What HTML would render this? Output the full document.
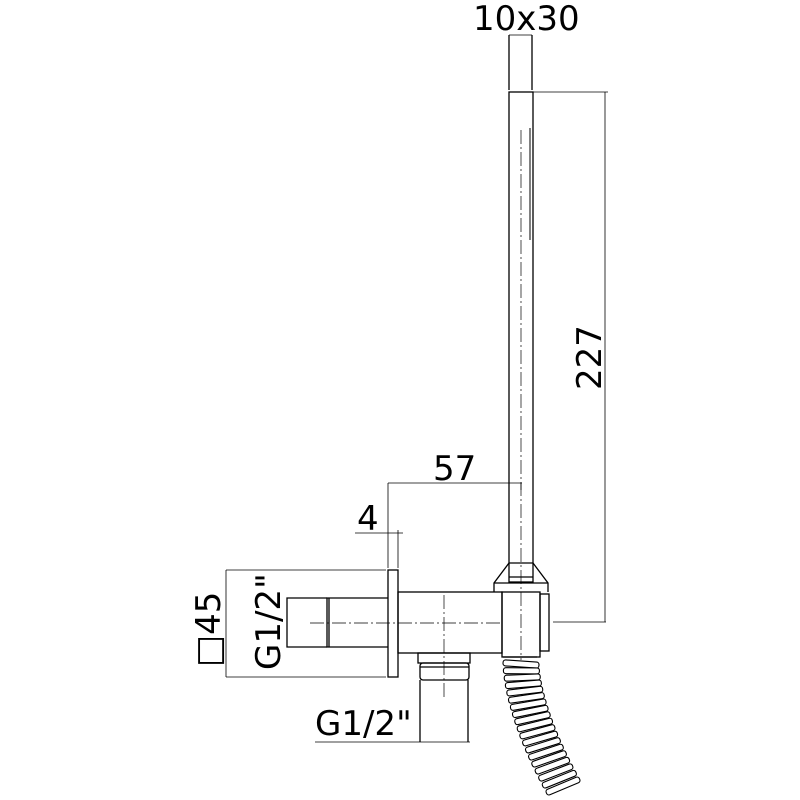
<!DOCTYPE html>
<html><head><style>body{margin:0;background:#fff}svg{display:block}text{font-family:"DejaVu Sans","Liberation Sans",sans-serif;fill:#000}</style></head>
<body>
<svg id="s" width="800" height="800" viewBox="0 0 800 800" xmlns="http://www.w3.org/2000/svg">
<g fill="none" stroke="#000" stroke-width="1.3">
<rect x="509" y="92" width="24" height="490"/>
<line x1="509" y1="35" x2="509" y2="90"/><line x1="532" y1="35" x2="532" y2="90"/>
<line x1="509" y1="35" x2="532" y2="35" stroke-width="0.8"/>
<line x1="530" y1="128" x2="530" y2="240" stroke-width="1"/>
<polyline points="509,563 494,583 494,592"/><polyline points="533,563 548,583 548,592"/>
<line x1="509" y1="563" x2="533" y2="563"/><line x1="494" y1="583" x2="548" y2="583"/>
<line x1="509" y1="577" x2="533" y2="577"/>
<rect x="398" y="592" width="104" height="61"/>
<rect x="502" y="592" width="38" height="65"/>
<rect x="540" y="594" width="9" height="57"/>
<rect x="388" y="570" width="10" height="107"/>
<polyline points="388,598 327,598 327,647 388,647"/>
<polyline points="327,598 287,598 287,647 327,647"/>
<line x1="329" y1="598" x2="329" y2="647"/>
<rect x="418" y="653" width="52" height="10"/>
<rect x="420" y="663" width="49" height="17" rx="3"/>
<line x1="420" y1="667" x2="469" y2="667"/>
<polyline points="420,680 420,742"/><polyline points="468,680 468,742"/>
</g>
<g fill="none" stroke="#000" stroke-width="0.7" stroke-dasharray="14,3,2,3">
<line x1="310" y1="623" x2="500" y2="623"/>
<line x1="444" y1="595" x2="444" y2="700"/>
<line x1="521" y1="130" x2="521" y2="660"/>
</g>
<g fill="none" stroke="#000" stroke-width="0.8">
<line x1="533" y1="92" x2="608" y2="92"/><line x1="605" y1="92" x2="605" y2="622"/><line x1="553" y1="622" x2="606" y2="622"/>
<line x1="388" y1="483" x2="522" y2="483"/><line x1="388" y1="483" x2="388" y2="568"/><line x1="521" y1="483" x2="521" y2="490"/>
<line x1="355" y1="533" x2="403" y2="533"/><line x1="398" y1="530" x2="398" y2="568"/>
<line x1="226" y1="570" x2="226" y2="677"/><line x1="226" y1="570" x2="386" y2="570"/><line x1="226" y1="677" x2="386" y2="677"/>
<line x1="287" y1="598" x2="287" y2="647"/>
<line x1="315" y1="742" x2="470" y2="742"/>
</g>
<line x1="503" y1="657" x2="537" y2="657" stroke="#000" stroke-width="1.2"/>
<g id="hose" fill="#fff" stroke="#000" stroke-width="1.1"></g>
<text x="473" y="30" font-size="34">10x30</text>
<text x="433" y="480" font-size="34">57</text>
<text x="357" y="530" font-size="34">4</text>
<text transform="translate(601,390) rotate(-90)" font-size="34">227</text>
<text transform="translate(220,667) rotate(-90)" font-size="34">□45</text>
<text transform="translate(280,670) rotate(-90)" font-size="34">G1/2"</text>
<text x="315" y="735" font-size="34">G1/2"</text>
</svg>
<script>
var g=document.getElementById('hose'),h='';
for(var i=0;i<19;i++){var t=i/18;var cx=521+42*Math.pow(t,1.6),cy=664+122*t;
var dx=42*1.6*Math.pow(Math.max(t,0.01),0.6),dy=122;var a=Math.atan2(dx,dy)*180/Math.PI;
h+='<rect x="'+(cx-18)+'" y="'+(cy-3)+'" width="36" height="6" rx="2.5" transform="rotate('+(-a+6)+' '+cx+' '+cy+')"/>';}
g.innerHTML=h;
</script>
</body></html>
